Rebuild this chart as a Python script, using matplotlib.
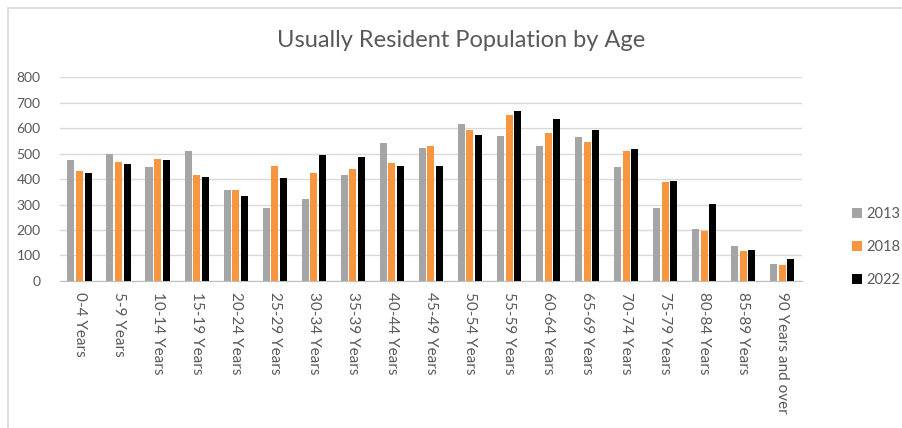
import numpy as np
import matplotlib
matplotlib.use("Agg")
import matplotlib.pyplot as plt
from matplotlib.lines import Line2D

# data
ages = ["0-4 Years", "5-9 Years", "10-14 Years", "15-19 Years", "20-24 Years",
        "25-29 Years", "30-34 Years", "35-39 Years", "40-44 Years", "45-49 Years",
        "50-54 Years", "55-59 Years", "60-64 Years", "65-69 Years", "70-74 Years",
        "75-79 Years", "80-84 Years", "85-89 Years", "90 Years and over"]
pop_2013 = [473, 497, 447, 511, 357, 288, 323, 416, 542, 522,
            617, 567, 528, 563, 448, 288, 203, 136, 67]
pop_2018 = [431, 467, 477, 417, 357, 451, 424, 438, 463, 529,
            592, 652, 579, 546, 508, 388, 197, 119, 63]
pop_2022 = [425, 459, 473, 408, 333, 403, 494, 486, 452, 452,
            571, 665, 634, 592, 519, 393, 302, 123, 88]
years = ["2013", "2018", "2022"]
colors = ["#A5A5A5", "#F7963F", "#000000"]

plt.rcParams["font.family"] = ["Lato", "DejaVu Sans"]

fig = plt.figure(figsize=(9.02, 4.28), dpi=100)
ax = fig.add_axes([0.0665, 0.3435, 0.8225, 0.4765])

x = np.arange(len(ages))
w = 0.18
step = 0.22
for i, (vals, lab) in enumerate(zip([pop_2013, pop_2018, pop_2022], years)):
    ax.bar(x + (i - 1) * step, vals, width=w, color=colors[i], label=lab, zorder=3)

ax.set_xlim(-0.5, len(ages) - 0.5)
ax.set_ylim(0, 800)
ax.set_yticks(range(0, 801, 100))
ax.grid(axis="y", color="#D9D9D9", linewidth=1, zorder=0)
for s in ["top", "right", "left"]:
    ax.spines[s].set_visible(False)
ax.spines["bottom"].set_color("#BFBFBF")
ax.tick_params(axis="both", length=0, colors="#595959", labelsize=10)
ax.tick_params(axis="y", pad=14)
ax.set_xticks(x)
ax.set_xticklabels(ages, rotation=-90, va="top", ha="center", fontsize=11)
ax.tick_params(axis="x", pad=8)

fig.text(0.511, 0.905, "Usually Resident Population by Age", ha="center", va="center",
         fontsize=17, color="#595959")

ax.legend(loc="center left", bbox_to_anchor=(1.05, 0.165), frameon=False,
          handlelength=0.7, handleheight=0.7, handletextpad=0.3, labelspacing=1.3,
          fontsize=10.5, labelcolor="#595959")

# thin grey frame at top and left, like the screenshot
fig.add_artist(Line2D([8 / 902, 1], [1 - 8 / 428] * 2, color="#D9D9D9", lw=1.2))
fig.add_artist(Line2D([8 / 902] * 2, [0, 1 - 8 / 428], color="#D9D9D9", lw=1.2))

fig.savefig("out.png", dpi=100)
